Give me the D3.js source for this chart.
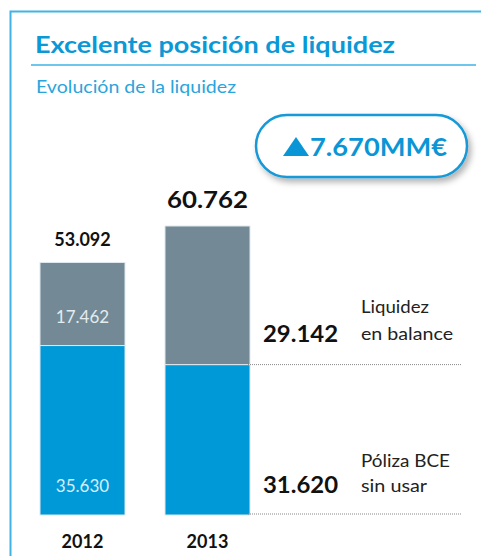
<!DOCTYPE html>
<html><head><meta charset="utf-8">
<script src="https://cdn.jsdelivr.net/npm/d3@7"></script>
<style>body{margin:0;background:#fff}svg{display:block}text{font-family:Lato,"Noto Sans",sans-serif}</style>
</head><body>
<svg id="c" width="481" height="556"></svg>
<script>
const years = ["2012", "2013"];
const polizaBCE = [35630, 31620];
const liquidezBalance = [17462, 29142];
const totals = [53092, 60762];
const increase = "7.670MM€";
const fmt = v => d3.format(",")(v).replace(/,/g, ".");

const svg = d3.select("#c");
const BLUE = "#0099d8", GRAY = "#738a96", FRAME = "#3fb3e6", TITLE = "#0a98d6";

// frame
svg.append("path").attr("d", "M10.5,556 V11.5 H481").attr("fill", "none").attr("stroke", FRAME).attr("stroke-width", 2);
svg.append("text").attr("x", 35).attr("y", 53).attr("fill", TITLE).attr("font-weight", 700)
  .attr("font-size", 23.5).attr("textLength", 360).attr("lengthAdjust", "spacingAndGlyphs").text("Excelente posición de liquidez");
svg.append("line").attr("x1", 31).attr("x2", 476).attr("y1", 65).attr("y2", 65).attr("stroke", FRAME).attr("stroke-width", 1.5);
svg.append("text").attr("x", 36).attr("y", 93).attr("fill", "#2aa5dc").attr("font-size", 16.5)
  .attr("textLength", 200).attr("lengthAdjust", "spacingAndGlyphs").text("Evolución  de la liquidez");

// badge
const defs = svg.append("defs");
const f = defs.append("filter").attr("id", "sh").attr("x", "-10%").attr("y", "-20%").attr("width", "130%").attr("height", "160%");
f.append("feDropShadow").attr("dx", 3).attr("dy", 4).attr("stdDeviation", 3).attr("flood-color", "#000").attr("flood-opacity", 0.3);
svg.append("rect").attr("x", 256).attr("y", 115).attr("width", 211).attr("height", 62).attr("rx", 31)
  .attr("fill", "#fff").attr("stroke", "#1499d6").attr("stroke-width", 2.5).attr("filter", "url(#sh)");
svg.append("path").attr("d", "M283,156 L296,137 L309,156 Z").attr("fill", "#0a96d6");
svg.append("text").attr("x", 310).attr("y", 156).attr("fill", "#0a96d6").attr("font-weight", 700).attr("font-size", 25)
  .attr("textLength", 137).attr("lengthAdjust", "spacingAndGlyphs").text(increase);

// scales
const x = d3.scaleBand().domain(years).range([20, 270]).paddingInner(0.32).paddingOuter(0.16);
const y = d3.scaleLinear().domain([0, 60762]).range([515, 226]);

const data = years.map((yr, i) => ({ yr, a: polizaBCE[i], b: liquidezBalance[i], t: totals[i] }));
const g = svg.append("g");
g.selectAll(".blue").data(data).join("rect")
  .attr("x", d => x(d.yr)).attr("width", x.bandwidth())
  .attr("y", d => y(d.a)).attr("height", d => y(0) - y(d.a))
  .attr("fill", BLUE).attr("stroke", "#dfe8ee").attr("stroke-width", 1);
g.selectAll(".gray").data(data).join("rect")
  .attr("x", d => x(d.yr)).attr("width", x.bandwidth())
  .attr("y", d => y(d.a + d.b)).attr("height", d => y(d.a) - y(d.a + d.b))
  .attr("fill", GRAY).attr("stroke", "#dfe8ee").attr("stroke-width", 1);

// inside labels for 2012
const d0 = data[0], cx0 = x(d0.yr) + x.bandwidth() / 2;
svg.append("text").attr("x", cx0).attr("y", 323).attr("text-anchor", "middle").attr("fill", "#e3ebef").attr("font-size", 17).text(fmt(d0.b));
svg.append("text").attr("x", cx0).attr("y", 492).attr("text-anchor", "middle").attr("fill", "#d9eef8").attr("font-size", 17).text(fmt(d0.a));

// totals
svg.append("text").attr("x", cx0).attr("y", y(d0.t) - 16).attr("text-anchor", "middle").attr("fill", "#111").attr("font-weight", 700).attr("font-size", 18).text(fmt(d0.t));
const d1 = data[1], cx1 = x(d1.yr) + x.bandwidth() / 2;
svg.append("text").attr("x", cx1).attr("y", y(d1.t) - 18).attr("text-anchor", "middle").attr("fill", "#111").attr("font-weight", 700).attr("font-size", 23.5)
  .attr("textLength", 81).attr("lengthAdjust", "spacingAndGlyphs").text(fmt(d1.t));

// year labels
svg.selectAll(".yr").data(data).join("text")
  .attr("x", d => x(d.yr) + x.bandwidth() / 2).attr("y", 548).attr("text-anchor", "middle")
  .attr("fill", "#111").attr("font-weight", 700).attr("font-size", 18).text(d => d.yr);

// dotted guides
const xr = x(d1.yr) + x.bandwidth();
[y(d1.a), y(0) - 1].forEach(yy => svg.append("line").attr("x1", xr - 2).attr("x2", 461).attr("y1", yy).attr("y2", yy)
  .attr("stroke", "#888").attr("stroke-width", 1).attr("stroke-dasharray", "1,1"));

// right annotations
const big = (v, yy) => svg.append("text").attr("x", 263).attr("y", yy).attr("fill", "#111").attr("font-weight", 700).attr("font-size", 22)
  .attr("textLength", 75).attr("lengthAdjust", "spacingAndGlyphs").text(fmt(v));
big(d1.b, 342); big(d1.a, 493);
const lbl = (t, yy, w) => svg.append("text").attr("x", 361).attr("y", yy).attr("fill", "#222").attr("font-size", 17.5)
  .attr("textLength", w).attr("lengthAdjust", "spacingAndGlyphs").text(t);
lbl("Liquidez", 313, 68); lbl("en balance", 340, 92);
lbl("Póliza BCE", 467, 89); lbl("sin usar", 492, 66);
</script>
</body></html>
